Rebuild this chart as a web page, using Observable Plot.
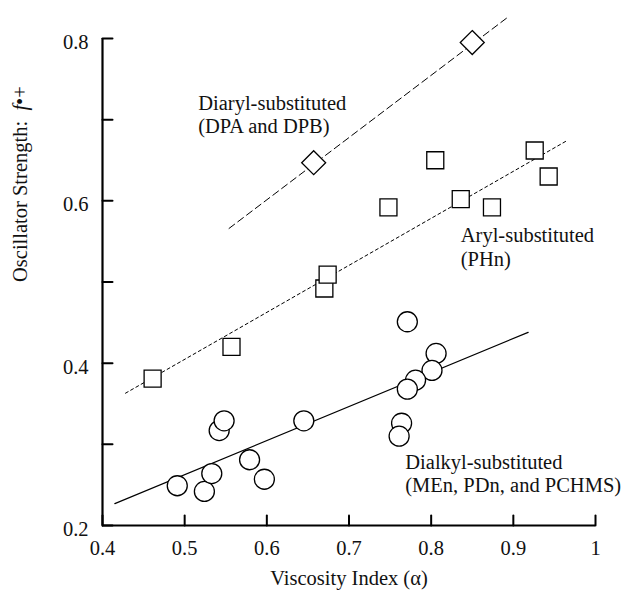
<!DOCTYPE html>
<html>
<head>
<meta charset="utf-8">
<script src="https://cdn.jsdelivr.net/npm/d3@7"></script>
<script src="https://cdn.jsdelivr.net/npm/@observablehq/plot@0.6"></script>
<style>
  html, body { margin: 0; padding: 0; background: white; }
  #chart svg, #chart svg text { font-family: "Liberation Serif", "Times New Roman", Times, serif !important; }
</style>
</head>
<body>
<div id="chart"></div>
<script>
// Dialkyl-substituted (MEn, PDn, PCHMS) – circles
const dialkylX = [0.491, 0.524, 0.533, 0.542, 0.548, 0.579, 0.597, 0.645, 0.771, 0.806, 0.801, 0.781, 0.771, 0.764, 0.761];
const dialkylY = [0.249, 0.242, 0.264, 0.317, 0.329, 0.281, 0.257, 0.329, 0.451, 0.412, 0.391, 0.379, 0.368, 0.326, 0.310];
// Aryl-substituted (PHn) – squares
const arylX = [0.461, 0.557, 0.670, 0.674, 0.748, 0.805, 0.836, 0.874, 0.926, 0.943];
const arylY = [0.381, 0.420, 0.492, 0.509, 0.592, 0.650, 0.602, 0.592, 0.662, 0.630];
// Diaryl-substituted (DPA, DPB) – diamonds
const diarylX = [0.657, 0.850];
const diarylY = [0.647, 0.795];
// fitted lines (end points)
const dialkylFitX = [0.415, 0.918];
const dialkylFitY = [0.227, 0.438];
const arylFitX = [0.428, 0.965];
const arylFitY = [0.363, 0.674];
const diarylFitX = [0.554, 0.893];
const diarylFitY = [0.566, 0.826];
// axes
const xTicks = [0.4, 0.5, 0.6, 0.7, 0.8, 0.9, 1];
const yTicks = [0.2, 0.3, 0.4, 0.5, 0.6, 0.7, 0.8];
const yTickLabels = [0.2, 0.4, 0.6, 0.8];
const xDomain = [0.4, 1];
const yDomain = [0.2, 0.8];
const xTitle = "Viscosity Index (\u03B1)";
const yTitle = "Oscillator Strength: f\u2022+";
// annotations
const groupLabels = ["Diaryl-substituted\n(DPA and DPB)", "Aryl-substituted\n(PHn)", "Dialkyl-substituted\n(MEn, PDn, and PCHMS)"];
const groupLabelX = [0.5165, 0.836, 0.7685];
const groupLabelY = [0.7335, 0.5697, 0.2912];

const pts = (xs, ys) => xs.map((x, i) => ({x, y: ys[i]}));
const dialkyl = pts(dialkylX, dialkylY);
const aryl = pts(arylX, arylY);
const diaryl = pts(diarylX, diarylY);
const labels = groupLabels.map((t, i) => ({t, x: groupLabelX[i], y: groupLabelY[i]}));
const xTickPts = xTicks.map(v => ({x: v, y: yDomain[0]}));
const yTickPts = yTicks.map(v => ({x: xDomain[0], y: v}));

const tickUp = {draw(ctx, l) { ctx.moveTo(0, 0); ctx.lineTo(0, -l); }};
const serif = "'Liberation Serif', 'Times New Roman', Times, serif";
const fs = 20.5;

const chart = Plot.plot({
  width: 622,
  height: 597,
  marginLeft: 102,
  marginRight: 27,
  marginTop: 38,
  marginBottom: 72,
  style: {fontFamily: serif, fontSize: fs + "px", background: "white", color: "black"},
  x: {domain: xDomain},
  y: {domain: yDomain},
  marks: [
    Plot.line(pts(diarylFitX, diarylFitY), {x: "x", y: "y", stroke: "black", strokeWidth: 1, strokeDasharray: "7,4"}),
    Plot.line(pts(arylFitX, arylFitY), {x: "x", y: "y", stroke: "black", strokeWidth: 1, strokeDasharray: "3,3"}),
    Plot.line(pts(dialkylFitX, dialkylFitY), {x: "x", y: "y", stroke: "black", strokeWidth: 1.2}),
    Plot.dot(dialkyl, {x: "x", y: "y", r: 10, symbol: "circle", fill: "white", stroke: "black", strokeWidth: 1.3}),
    Plot.dot(aryl, {x: "x", y: "y", r: 9.6, symbol: "square", fill: "white", stroke: "black", strokeWidth: 1.3}),
    Plot.dot(diaryl, {x: "x", y: "y", r: 10.8, symbol: "diamond2", fill: "white", stroke: "black", strokeWidth: 1.3}),
    Plot.text(labels, {x: "x", y: "y", text: "t", textAnchor: "start", lineAnchor: "top", lineHeight: 1.17, fill: "#111", fontSize: fs}),
    Plot.ruleX([xDomain[0]], {y1: yDomain[0], y2: yDomain[1], stroke: "black", strokeWidth: 2.2}),
    Plot.ruleY([yDomain[0]], {x1: xDomain[0], x2: xDomain[1], stroke: "black", strokeWidth: 2.2}),
    Plot.vector(xTickPts, {x: "x", y: "y", length: 10, rotate: 0, anchor: "start", shape: tickUp, stroke: "black", strokeWidth: 2}),
    Plot.vector(yTickPts, {x: "x", y: "y", length: 10, rotate: 90, anchor: "start", shape: tickUp, stroke: "black", strokeWidth: 2}),
    Plot.axisX({ticks: xTicks, tickSize: 0, tickPadding: 15, label: null, tickFormat: d => d === 1 ? "1" : d.toFixed(1), fill: "#111", fontSize: fs}),
    Plot.axisY({ticks: yTickLabels, tickSize: 0, tickPadding: 14, dy: 4, label: null, tickFormat: d => d.toFixed(1), fill: "#111", fontSize: fs}),
    Plot.text([xTitle], {text: d => d, frameAnchor: "bottom", dy: 59, fill: "#111", fontSize: fs}),
    Plot.text([yTitle], {text: d => d, frameAnchor: "left", rotate: -90, dx: -82, fill: "#111", fontSize: fs})
  ]
});

chart.setAttribute("font-family", serif);

// italic "f" in the y title
d3.select(chart).selectAll("text").each(function() {
  if (this.textContent === yTitle) {
    const el = d3.select(this);
    el.text(null);
    el.append("tspan").text("Oscillator Strength:  ");
    el.append("tspan").attr("font-style", "italic").text("f");
    el.append("tspan").text("\u2022+");
  }
});

document.getElementById("chart").appendChild(chart);
</script>
</body>
</html>
